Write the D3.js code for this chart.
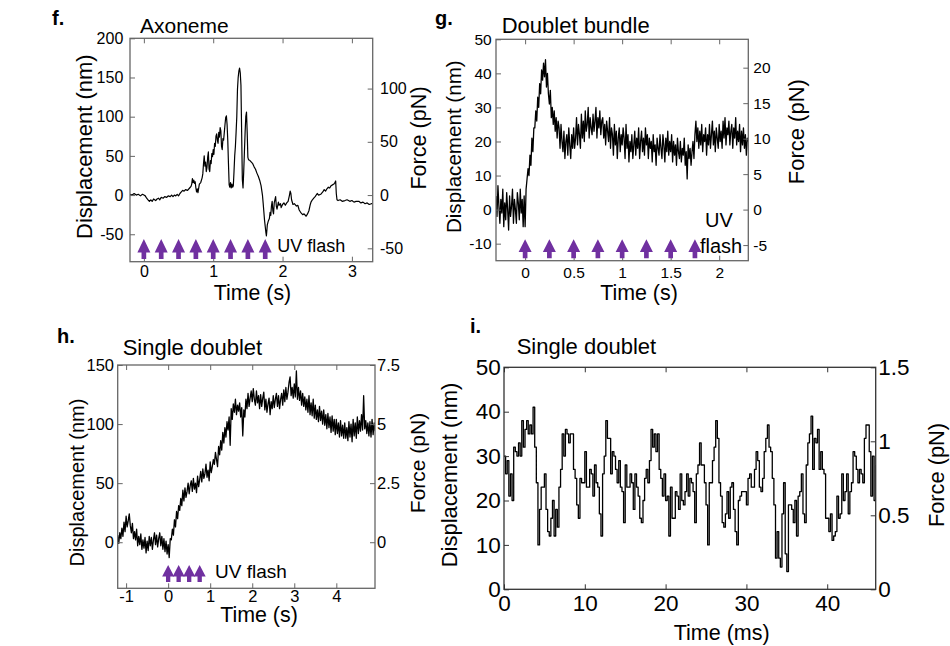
<!DOCTYPE html>
<html>
<head>
<meta charset="utf-8">
<script src="https://cdn.jsdelivr.net/npm/d3@7"></script>
<style>
  body { margin: 0; background: #fff; }
  svg text { font-family: "Liberation Sans", Arial, sans-serif; fill: #000; }
</style>
</head>
<body>
<svg id="fig" width="950" height="646"></svg>
<script>
// ── panel f: axoneme, [time s, displacement nm] ──
const fTrace = [
  [-0.2,1],[-0.17,0],[-0.14,2],[-0.11,0],[-0.08,1],[-0.05,-1],[-0.02,1],[0.0,0],[0.02,-1],[0.04,-4],
  [0.06,-6],[0.08,-8],[0.1,-6],[0.12,-8],[0.14,-5],[0.17,-7],[0.19,-5],[0.21,-4],[0.23,-6],[0.25,-3],
  [0.28,-4],[0.3,-2],[0.33,-3],[0.35,-1],[0.38,-2],[0.4,0],[0.42,-2],[0.44,0],[0.46,-1],[0.48,1],
  [0.5,-1],[0.52,2],[0.54,4],[0.56,6],[0.58,5],[0.6,7],[0.63,6],[0.66,9],[0.68,11],[0.69,14],
  [0.70,21],[0.71,16],[0.72,19],[0.73,15],[0.74,17],[0.75,9],[0.76,4],[0.77,8],[0.78,3],[0.8,14],
  [0.82,16],[0.84,22],[0.85,27],[0.86,40],[0.87,50],[0.88,37],[0.89,42],[0.9,30],[0.91,35],[0.92,48],
  [0.93,55],[0.94,33],[0.95,30],[0.96,44],[0.97,40],[0.98,53],[0.99,49],[1.0,58],[1.01,52],[1.02,66],
  [1.03,62],[1.04,75],[1.05,78],[1.06,70],[1.07,66],[1.08,80],[1.09,74],[1.1,86],[1.11,82],[1.12,62],
  [1.13,58],[1.14,72],[1.15,70],[1.16,80],[1.17,90],[1.18,99],[1.19,101],[1.2,90],[1.21,70],[1.22,40],
  [1.23,13],[1.24,10],[1.25,16],[1.26,9],[1.27,14],[1.28,10],[1.29,12],[1.3,30],[1.31,50],[1.32,62],
  [1.33,80],[1.34,100],[1.35,135],[1.36,150],[1.37,158],[1.38,162],[1.39,156],[1.4,140],[1.41,80],[1.42,20],
  [1.43,9],[1.44,30],[1.45,55],[1.46,80],[1.47,100],[1.48,106],[1.49,80],[1.5,48],[1.51,45],[1.53,44],
  [1.55,42],[1.57,40],[1.59,36],[1.61,33],[1.63,28],[1.65,24],[1.67,19],[1.69,12],[1.7,6],[1.71,0],
  [1.72,-10],[1.73,-21],[1.74,-32],[1.75,-40],[1.76,-48],[1.767,-52],[1.775,-44],[1.78,-38],[1.795,-33],[1.81,-30],
  [1.82,-22],[1.83,-26],[1.84,-14],[1.85,-8],[1.86,-20],[1.87,-24],[1.88,-10],[1.9,-2],[1.91,-14],[1.92,-18],
  [1.94,-9],[1.95,-13],[1.97,-11],[1.98,-16],[2.0,-12],[2.02,-10],[2.04,-13],[2.06,-10],[2.08,-8],[2.1,0],
  [2.11,5],[2.12,2],[2.13,-6],[2.15,-12],[2.17,-11],[2.2,-14],[2.22,-13],[2.24,-19],[2.26,-22],[2.29,-25],
  [2.31,-24],[2.34,-27],[2.36,-24],[2.38,-20],[2.4,-12],[2.41,-9],[2.43,-6],[2.45,-4],[2.47,-2],[2.5,2],
  [2.52,0],[2.55,1],[2.58,4],[2.6,7],[2.62,5],[2.64,8],[2.66,10],[2.68,9],[2.7,12],[2.72,13],
  [2.74,14],[2.75,15],[2.766,18],[2.775,2],[2.785,-6],[2.8,-7],[2.83,-6],[2.86,-8],[2.9,-7],[2.93,-6],
  [2.97,-8],[3.0,-7],[3.03,-9],[3.06,-8],[3.1,-8],[3.13,-10],[3.16,-9],[3.19,-11],[3.22,-10],[3.25,-12],
  [3.28,-11],[3.3,-11]
];
const fFlashes = [0, 0.25, 0.5, 0.75, 1, 1.25, 1.5, 1.75];

// ── panel g: doublet bundle, sampled every 0.01 s from -0.3 s ──
const gStart = -0.3, gStep = 0.01;
const gDisp = [
  4,-2,7,1,-4,3,-1,6,-5,2,
  -3,5,0,-6,4,-2,1,6,-4,3,
  0,-4,5,2,-3,6,-1,3,-5,4,
  -5,6,9,12,10,16,13,21,17,24,
  24,29,26,33,30,37,34,41,38,43,
  39,44,36,40,34,31,35,27,30,25,
  29,23,27,21,26,24,18,25,20,17,
  23,15,20,22,16,24,19,15,22,18,
  24,18,21,27,19,25,22,18,28,21,
  26,20,29,23,25,30,21,27,24,22,
  28,23,26,30,21,27,24,29,22,26,
  27,21,25,19,26,23,20,27,18,24,
  22,16,25,19,23,15,21,24,17,22,
  19,24,21,15,25,18,22,14,20,17,
  22,15,19,23,16,21,18,24,15,20,
  23,17,21,16,24,19,22,15,21,18,
  20,14,22,17,19,13,21,18,16,22,
  18,15,22,19,14,21,17,23,16,20,
  17,22,14,20,16,19,13,21,17,15,
  20,14,18,16,21,13,17,9,19,15,
  18,13,17,20,15,22,26,20,24,18,
  23,19,25,17,22,20,24,16,22,19,
  25,18,22,26,19,23,17,24,21,18,
  25,20,23,18,26,21,27,19,24,22,
  26,19,23,25,18,24,21,27,19,23,
  20,25,17,23,19,24,18,22,16,21,20
];
const gFlashes = [0, 0.25, 0.5, 0.75, 1, 1.25, 1.5, 1.75];

// ── panel h: single doublet, sampled every 0.025 s from -1.2 s ──
const hStart = -1.2, hStep = 0.025;
const hDisp = [
  6,-1,8,3,  12,5,17,9,  22,13,18,24,  14,8,16,3,  9,2,11,-3,
  5,-2,7,-6,  2,-5,4,-9,  1,-7,5,-3,  4,-6,2,8,  -2,6,-4,3,
  8,-3,5,-6,  3,-8,1,-10,  -2,-13,3,2,  11,6,19,13,  26,20,31,27,
  37,31,44,35,  46,38,43,50,  41,48,52,43,  54,45,50,42,  56,47,53,60,
  51,62,54,58,  66,55,61,52,  68,59,64,70,  66,76,70,64,  81,74,86,78,
  93,84,97,89,  102,95,106,82,  113,104,117,110,  121,108,116,111,  118,106,114,90,
  112,106,121,113,  126,115,122,128,  119,130,121,116,  128,118,124,113,  125,115,122,127,
  112,121,110,117,  122,108,119,113,  124,114,121,126,  115,124,113,121,  126,116,129,119,
  131,121,127,135,  140,124,131,122,  134,123,145,121,  131,120,128,116,  126,115,123,112,
  121,110,124,108,  118,107,121,105,  116,104,112,102,  115,103,111,100,  112,99,108,96,
  109,97,106,93,  107,94,104,91,  104,92,101,89,  103,90,99,88,  101,88,97,86,
  102,89,100,85,  104,90,101,88,  106,92,103,94,  108,95,124,96,  103,92,101,90,
  102,89,104,91,  101,94
];
const hFlashes = [0, 0.25, 0.5, 0.75];

// ── panel i: single doublet, sampled every 0.2 ms from 0 ms ──
const iStart = 0, iStep = 0.2;
const iDisp = [
  30,26,29,21,26,20,32,31,30,33,
  30,38,32,36,38,35,37,35,41,32,
  24,10,18,23,23,26,18,13,12,16,
  20,12,18,14,23,27,35,30,36,35,
  33,35,35,27,25,19,16,25,24,24,
  31,23,23,27,26,21,28,24,23,17,
  12,26,30,38,34,34,26,31,30,27,
  24,29,23,22,15,28,23,23,26,24,
  18,26,23,21,16,15,20,25,27,24,
  29,36,32,35,31,35,27,25,21,26,
  20,21,12,23,16,16,22,21,18,26,
  20,19,22,26,21,25,24,22,15,26,
  28,33,28,28,24,19,10,24,24,29,
  32,38,34,24,21,15,14,17,22,16,
  23,24,18,13,10,20,21,22,22,22,
  19,25,26,23,23,27,31,29,23,22,
  25,31,34,37,32,31,25,19,7,13,
  7,5,17,24,8,4,19,19,18,15,
  20,12,21,22,26,17,15,28,33,35,
  39,27,34,33,36,27,31,27,26,16,
  16,13,17,11,12,13,21,16,17,26,
  20,22,26,17,22,24,31,30,27,24,
  27,26,24,34,37,37,31,21,30,20,
  28
];

// tick values per panel (left = displacement, right = force)
const fXTicks = [0, 1, 2, 3], fYTicks = [-50, 0, 50, 100, 150, 200], fRTicks = [-50, 0, 50, 100];
const gXTicks = [0, 0.5, 1, 1.5, 2], gYTicks = [-10, 0, 10, 20, 30, 40, 50], gRTicks = [-5, 0, 5, 10, 15, 20];
const hXTicks = [-1, 0, 1, 2, 3, 4], hYTicks = [0, 50, 100, 150], hRTicks = [0, 2.5, 5, 7.5];
const iXTicks = [0, 10, 20, 30, 40], iYTicks = [0, 10, 20, 30, 40, 50], iRTicks = [0, 0.5, 1, 1.5];

const gTrace = gDisp.map((v, i) => [gStart + i * gStep, v]);
const hTrace = hDisp.map((v, i) => [hStart + i * hStep, v]);
const iTrace = iDisp.map((v, i) => [iStart + i * iStep, v]);

const svg = d3.select('#fig');

const panels = [
  { id: 'f', label: 'f.', title: 'Axoneme', trace: fTrace, flashes: fFlashes, curve: d3.curveLinear,
    left: 130, right: 372.7, top: 38.3, bottom: 261.7,
    xDomain: [-0.2, 3.3], yDomain: [-85, 200], rFactor: 0.736,
    xTicks: fXTicks, yTicks: fYTicks, rTicks: fRTicks,
    tickFs: 16, padL: 6.7, padR: 7.3, padB: 4.2, frame: '#666', lw: 1.2,
    labelPos: [52, 25], titlePos: [140, 33], titleFs: 21,
    yTitle: [84, 146.7, 22], rTitle: [418, 138, 21.6], xTitle: ['Time (s)', 252.5, 300, 21.3],
    arrow: { w: 13, h: 20, off: 2.7 },
    flashText: [['UV flash', 277.3, 251.7]], flashFs: 18 },
  { id: 'g', label: 'g.', title: 'Doublet bundle', trace: gTrace, flashes: gFlashes, curve: d3.curveLinear,
    left: 496, right: 748.3, top: 39.3, bottom: 260.7,
    xDomain: [-0.3, 2.3], yDomain: [-15, 50], rFactor: 0.48,
    xTicks: gXTicks, yTicks: gYTicks, rTicks: gRTicks,
    tickFs: 15.5, padL: 4.3, padR: 5, padB: 6.3, frame: '#666', lw: 1.3,
    labelPos: [435, 25], titlePos: [501.7, 33.3], titleFs: 22,
    yTitle: [453.3, 146.7, 20.6], rTitle: [796.7, 131.7, 22], xTitle: ['Time (s)', 639, 300, 21.4],
    arrow: { w: 13, h: 19, off: 2.4 },
    flashText: [['UV', 705, 226.7], ['flash', 700, 253.3]], flashFs: 20 },
  { id: 'h', label: 'h.', title: 'Single doublet', trace: hTrace, flashes: hFlashes, curve: d3.curveLinear,
    left: 117.7, right: 375, top: 365, bottom: 588.3,
    xDomain: [-1.2, 4.92], yDomain: [-39, 150], rFactor: 0.05,
    xTicks: hXTicks, yTicks: hYTicks, rTicks: hRTicks,
    tickFs: 16.5, padL: 3.7, padR: 2, padB: 1.8, frame: '#666', lw: 1.3,
    labelPos: [57, 343], titlePos: [122.7, 355], titleFs: 22,
    yTitle: [76.7, 482.5, 20], rTitle: [418, 463, 21], xTitle: ['Time (s)', 259, 622, 21.4],
    arrow: { w: 12, h: 17, off: 6.3 },
    flashText: [['UV flash', 215, 578]], flashFs: 19 },
  { id: 'i', label: 'i.', title: 'Single doublet', trace: iTrace, flashes: [], curve: d3.curveStepAfter,
    left: 504, right: 875.7, top: 367.3, bottom: 589.3,
    xDomain: [0, 46], yDomain: [0, 50], rFactor: 0.03,
    xTicks: iXTicks, yTicks: iYTicks, rTicks: iRTicks,
    tickFs: 22.5, padL: 3.3, padR: 2.6, padB: 6, frame: '#333', lw: 1.3,
    labelPos: [470, 333], titlePos: [516.7, 354], titleFs: 22,
    yTitle: [449, 475, 22], rTitle: [936.7, 475, 21.8], xTitle: ['Time (ms)', 721.7, 640, 21.5],
    arrow: null, flashText: [], flashFs: 18 }
];

const FLASH = '#7030a0';
const TICK = 5;
const fmt = d => String(d);

function arrowPath(w, h) {
  const sb = h * 0.33, sw = w * 0.36;
  return `M0,${-h}L${w / 2},${-sb}L${sw / 2},${-sb}L${sw / 2},0L${-sw / 2},0L${-sw / 2},${-sb}L${-w / 2},${-sb}Z`;
}

function styleAxis(sel, p) {
  sel.attr('font-size', null).attr('font-family', null);
  sel.select('.domain').remove();
  sel.selectAll('.tick line').attr('stroke', p.frame).attr('stroke-width', 1);
  sel.selectAll('.tick text').style('font-size', p.tickFs + 'px').attr('fill', '#000');
}

panels.forEach(p => {
  const x = d3.scaleLinear().domain(p.xDomain).range([p.left, p.right]);
  const y = d3.scaleLinear().domain(p.yDomain).range([p.bottom, p.top]);
  const yR = d3.scaleLinear().domain(p.yDomain.map(v => v * p.rFactor)).range([p.bottom, p.top]);
  const g = svg.append('g').attr('class', 'panel-' + p.id);

  g.append('clipPath').attr('id', 'clip-' + p.id)
    .append('rect')
    .attr('x', p.left).attr('y', p.top)
    .attr('width', p.right - p.left).attr('height', p.bottom - p.top);

  // trace
  g.append('path')
    .datum(p.trace)
    .attr('clip-path', `url(#clip-${p.id})`)
    .attr('fill', 'none')
    .attr('stroke', '#000')
    .attr('stroke-width', p.lw)
    .attr('stroke-linejoin', 'round')
    .attr('d', d3.line().curve(p.curve).x(d => x(d[0])).y(d => y(d[1])));

  // axes, ticks pointing inward
  g.append('g').attr('transform', `translate(${p.left},0)`)
    .call(d3.axisLeft(y).tickValues(p.yTicks).tickSize(-TICK).tickPadding(p.padL).tickFormat(fmt))
    .call(s => styleAxis(s, p));
  g.append('g').attr('transform', `translate(${p.right},0)`)
    .call(d3.axisRight(yR).tickValues(p.rTicks).tickSize(-TICK).tickPadding(p.padR).tickFormat(fmt))
    .call(s => styleAxis(s, p));
  g.append('g').attr('transform', `translate(0,${p.bottom})`)
    .call(d3.axisBottom(x).tickValues(p.xTicks).tickSize(-TICK).tickPadding(p.padB).tickFormat(fmt))
    .call(s => styleAxis(s, p));
  g.append('g').attr('transform', `translate(0,${p.top})`)
    .call(d3.axisTop(x).tickValues(p.xTicks).tickSize(-TICK).tickFormat(''))
    .call(s => styleAxis(s, p));

  // frame
  g.append('rect')
    .attr('x', p.left).attr('y', p.top)
    .attr('width', p.right - p.left).attr('height', p.bottom - p.top)
    .attr('fill', 'none').attr('stroke', p.frame).attr('stroke-width', 1.3);

  // UV flash arrows
  if (p.arrow) {
    g.selectAll('.flash')
      .data(p.flashes)
      .join('path')
      .attr('class', 'flash')
      .attr('transform', d => `translate(${x(d)},${p.bottom - p.arrow.off})`)
      .attr('d', arrowPath(p.arrow.w, p.arrow.h))
      .attr('fill', FLASH);
  }
  p.flashText.forEach(([t, tx, ty]) => {
    g.append('text').attr('x', tx).attr('y', ty).style('font-size', p.flashFs + 'px').text(t);
  });

  // labels
  g.append('text').attr('x', p.labelPos[0]).attr('y', p.labelPos[1])
    .style('font-size', '20px').style('font-weight', 'bold').text(p.label);
  g.append('text').attr('x', p.titlePos[0]).attr('y', p.titlePos[1])
    .style('font-size', p.titleFs + 'px').text(p.title);
  g.append('text')
    .attr('transform', `translate(${p.yTitle[0]},${p.yTitle[1]}) rotate(-90)`)
    .attr('text-anchor', 'middle').attr('dy', '0.35em')
    .style('font-size', p.yTitle[2] + 'px').text('Displacement (nm)');
  g.append('text')
    .attr('transform', `translate(${p.rTitle[0]},${p.rTitle[1]}) rotate(-90)`)
    .attr('text-anchor', 'middle').attr('dy', '0.35em')
    .style('font-size', p.rTitle[2] + 'px').text('Force (pN)');
  g.append('text')
    .attr('x', p.xTitle[1]).attr('y', p.xTitle[2])
    .attr('text-anchor', 'middle')
    .style('font-size', p.xTitle[3] + 'px').text(p.xTitle[0]);
});
</script>
</body>
</html>
